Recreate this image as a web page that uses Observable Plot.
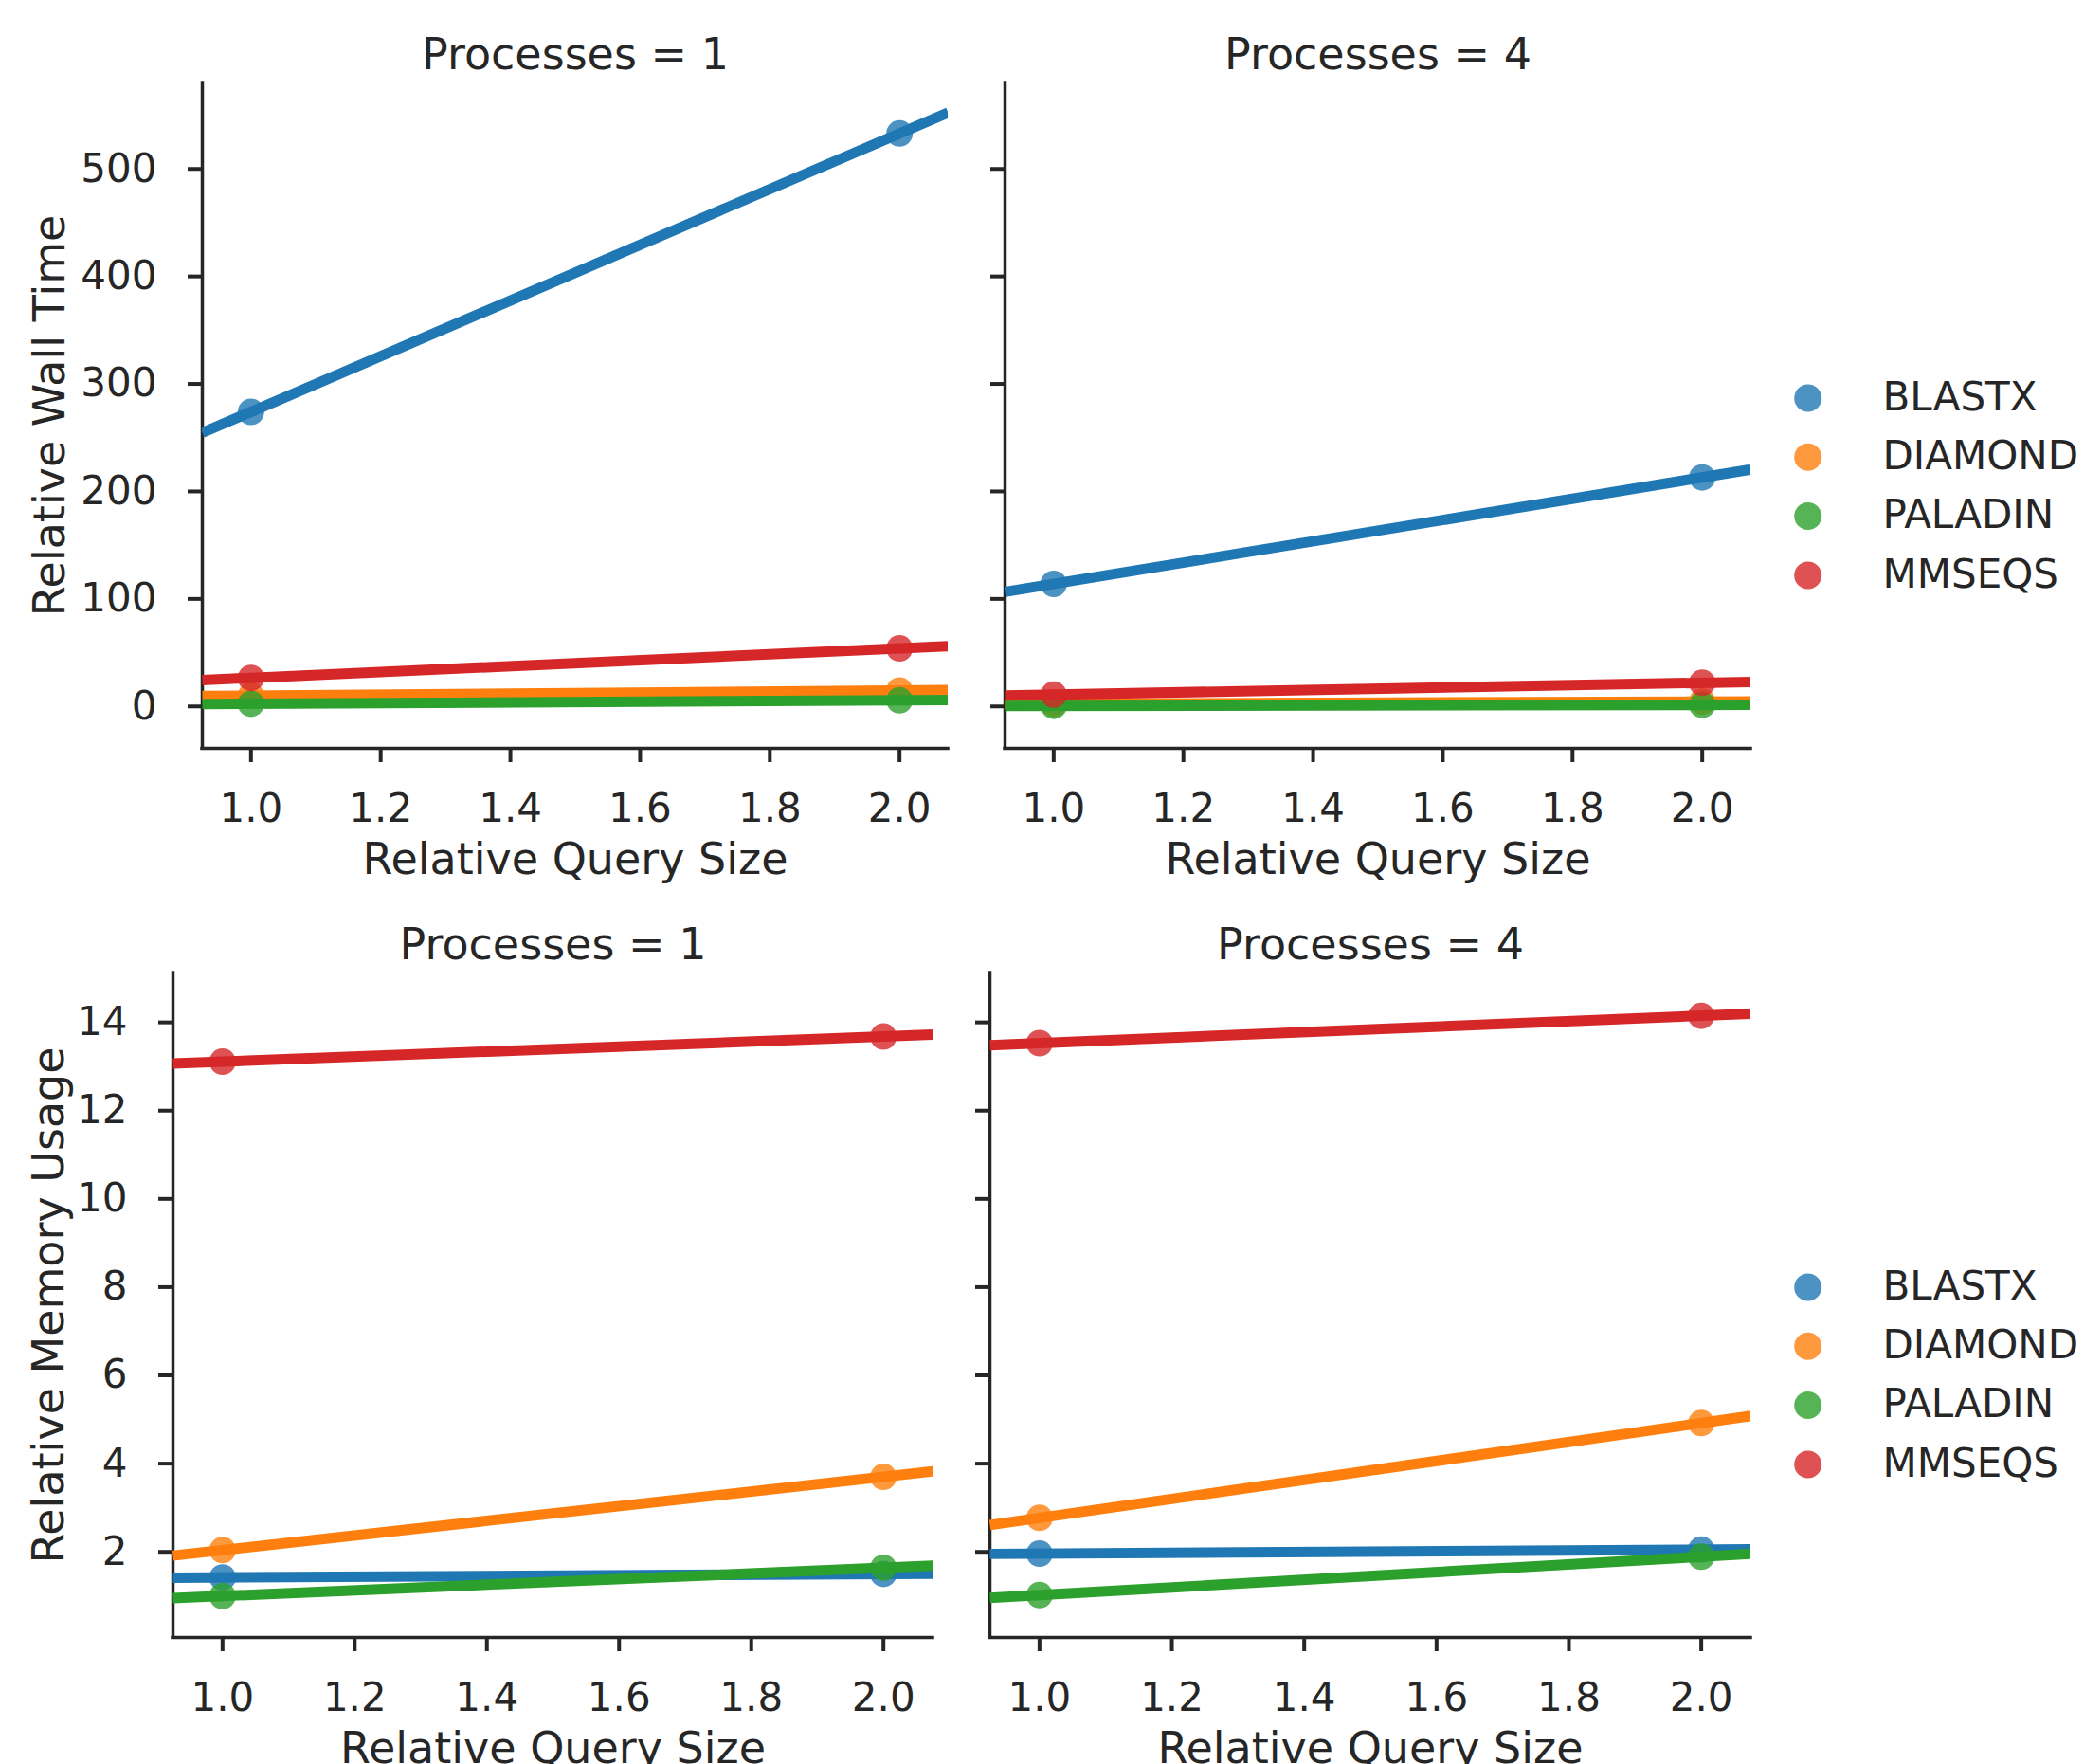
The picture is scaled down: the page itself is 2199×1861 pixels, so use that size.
<!DOCTYPE html>
<html>
<head>
<meta charset="utf-8">
<script src="https://cdn.jsdelivr.net/npm/d3@7"></script>
<script src="https://cdn.jsdelivr.net/npm/@observablehq/plot@0.6"></script>
<style>
  html, body { margin: 0; padding: 0; background: #ffffff; }
  #chart { position: relative; width: 2199px; height: 1861px; overflow: hidden; background: #ffffff;
           font-family: "DejaVu Sans", sans-serif; color: #262626; }
  #chart svg { position: absolute; overflow: visible; }
</style>
</head>
<body>
<div id="chart"></div>
<script>
// ---------------- data ----------------
const tools = ["BLASTX", "DIAMOND", "PALADIN", "MMSEQS"];
const toolColors = ["#1f77b4", "#ff7f0e", "#2ca02c", "#d62728"];
const querySizes = [1.0, 2.0];
const processes = [1, 4];

// Relative Wall Time, one [size 1.0, size 2.0] pair per tool (order of `tools`)
const wallTimeP1 = [[274, 533], [10, 14.8], [2.5, 5.7], [26.5, 54]];
const wallTimeP4 = [[114, 213], [2.5, 4.5], [0.5, 1.4], [11, 22]];
// Relative Memory Usage
const memoryP1 = [[1.42, 1.50], [2.04, 3.70], [1.00, 1.64], [13.11, 13.68]];
const memoryP4 = [[1.96, 2.05], [2.77, 4.92], [1.02, 1.89], [13.53, 14.15]];

const xTicks = [1.0, 1.2, 1.4, 1.6, 1.8, 2.0];
const wallTicks = [0, 100, 200, 300, 400, 500];
const memTicks = [2, 4, 6, 8, 10, 12, 14];

const xLabel = "Relative Query Size";
const wallLabel = "Relative Wall Time";
const memLabel = "Relative Memory Usage";

// ---------------- layout ----------------
const INK = "#262626";
const FONT = "DejaVu Sans";
const xDomain = [0.925, 2.075];
const wallDomain = [-39, 580];
const memDomain = [0.06, 15.12];

function fit(xs, ys) {
  const mx = d3.mean(xs), my = d3.mean(ys);
  const b = d3.sum(xs, (x, i) => (x - mx) * (ys[i] - my)) / d3.sum(xs, x => (x - mx) ** 2);
  return {a: my - b * mx, b};
}

const chart = document.getElementById("chart");

function panel({x0, x1, y0, y1, yDomain, yTicks, tickLabels, title, ylabel, ylabelX, values}) {
  const ml = 240, mr = 20, mt = 100, mb = 160;
  const marks = [];
  marks.push(Plot.ruleX([xDomain[0]], {stroke: INK, strokeWidth: 3.5, strokeLinecap: "square"}));
  marks.push(Plot.ruleY([yDomain[0]], {stroke: INK, strokeWidth: 3.5, strokeLinecap: "square"}));
  tools.forEach((t, i) => {
    const pts = querySizes.map((q, j) => ({x: q, y: values[i][j], tool: t}));
    const {a, b} = fit(querySizes, values[i]);
    const ln = xDomain.map(x => ({x, y: a + b * x}));
    marks.push(Plot.dot(pts, {x: "x", y: "y", r: 14, fill: toolColors[i], fillOpacity: 0.8, stroke: null}));
    marks.push(Plot.line(ln, {x: "x", y: "y", stroke: toolColors[i], strokeWidth: 11, strokeLinecap: "butt", clip: true}));
  });
  marks.push(Plot.axisX({ticks: xTicks, tickFormat: d3.format(".1f"), tickSize: 15, tickPadding: 33,
    strokeWidth: 4, stroke: INK, fill: INK, fontSize: 42, label: null}));
  marks.push(Plot.axisY({ticks: yTicks, tickSize: 15, tickPadding: 33, strokeWidth: 4, stroke: INK, fill: INK,
    fontSize: 42, label: null, tickFormat: tickLabels ? (d => String(d)) : (() => "")}));
  marks.push(Plot.text([title], {frameAnchor: "top", dy: -15, lineAnchor: "bottom", fontSize: 46, fill: INK}));
  marks.push(Plot.text([xLabel], {frameAnchor: "bottom", dy: 132, lineAnchor: "bottom", fontSize: 46, fill: INK}));
  if (ylabel) {
    marks.push(Plot.text([ylabel], {frameAnchor: "left", dx: ylabelX - x0, rotate: -90, lineAnchor: "bottom",
      textAnchor: "middle", fontSize: 46, fill: INK}));
  }
  const svg = Plot.plot({
    width: ml + (x1 - x0) + mr,
    height: mt + (y1 - y0) + mb,
    marginLeft: ml, marginRight: mr, marginTop: mt, marginBottom: mb,
    x: {domain: xDomain},
    y: {domain: yDomain},
    style: {fontFamily: FONT, fontSize: "42px", color: INK, background: "transparent", overflow: "visible"},
    marks
  });
  svg.style.left = (x0 - ml) + "px";
  svg.style.top = (y0 - mt) + "px";
  chart.appendChild(svg);
}

panel({x0: 213, x1: 1000, y0: 87, y1: 789, yDomain: wallDomain, yTicks: wallTicks, tickLabels: true,
  title: `Processes = ${processes[0]}`, ylabel: wallLabel, ylabelX: 67, values: wallTimeP1});
panel({x0: 1060, x1: 1847, y0: 87, y1: 789, yDomain: wallDomain, yTicks: wallTicks, tickLabels: false,
  title: `Processes = ${processes[1]}`, ylabel: null, values: wallTimeP4});
panel({x0: 182, x1: 984, y0: 1026, y1: 1727, yDomain: memDomain, yTicks: memTicks, tickLabels: true,
  title: `Processes = ${processes[0]}`, ylabel: memLabel, ylabelX: 66, values: memoryP1});
panel({x0: 1044, x1: 1847, y0: 1026, y1: 1727, yDomain: memDomain, yTicks: memTicks, tickLabels: false,
  title: `Processes = ${processes[1]}`, ylabel: null, values: memoryP4});

// ---------------- legends ----------------
const leg = d3.select(chart).append("svg")
  .attr("width", 2199).attr("height", 1861)
  .style("left", "0px").style("top", "0px").style("pointer-events", "none");
[420, 1358].forEach(top => {
  tools.forEach((t, i) => {
    const cy = top + i * 62.3;
    leg.append("circle").attr("cx", 1907.7).attr("cy", cy).attr("r", 14.5)
      .attr("fill", toolColors[i]).attr("fill-opacity", 0.8);
    leg.append("text").attr("x", 1986.5).attr("y", cy + 12.7)
      .attr("font-family", FONT).attr("font-size", 42).attr("fill", INK).text(t);
  });
});
</script>
</body>
</html>
